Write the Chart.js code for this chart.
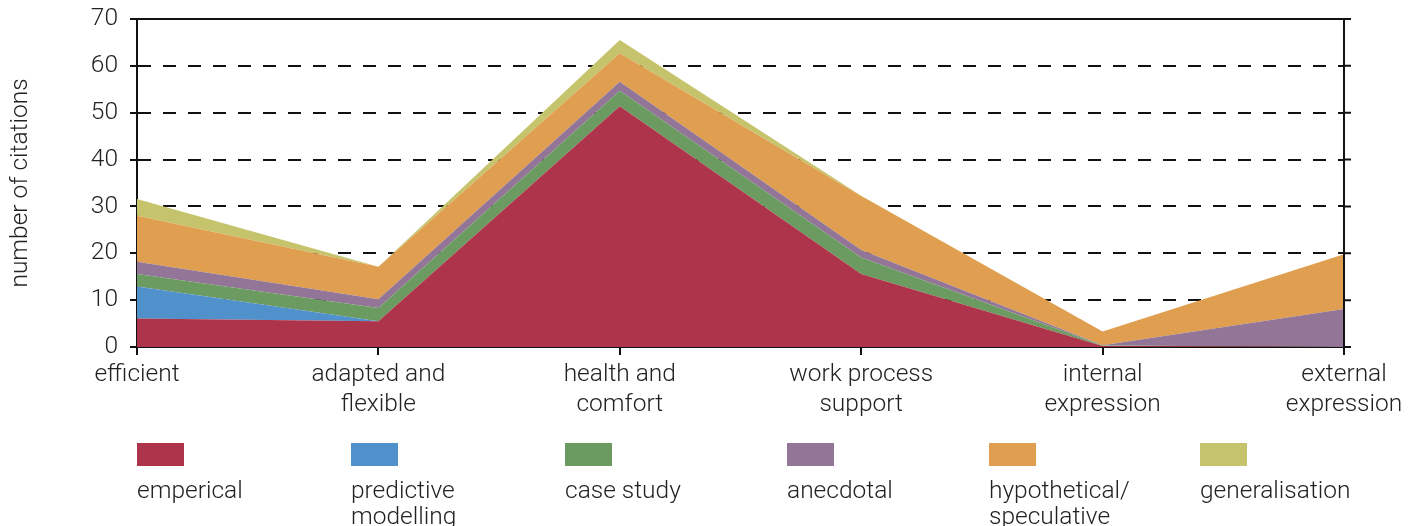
<!DOCTYPE html>
<html>
<head>
<meta charset="utf-8">
<script src="https://cdn.jsdelivr.net/npm/chart.js@4/dist/chart.umd.min.js"></script>
<style>
  html, body { margin: 0; padding: 0; background: #fff; }
  #wrap { position: relative; width: 1418px; height: 526px; overflow: hidden; }
  #legend .item { position: absolute; top: 443px; font: 300 24.5px Roboto, "Liberation Sans", sans-serif; color: #222; line-height: 26px; }
  #legend .swatch { width: 47px; height: 23px; }
  #legend .label { margin-top: 11px; }
</style>
</head>
<body>
<div id="wrap">
  <canvas id="chart" width="1418" height="526"></canvas>
  <div id="legend"></div>
</div>
<script>
// categories on the x axis (multi-line labels)
const categories = [
  ['efficient'],
  ['adapted and', 'flexible'],
  ['health and', 'comfort'],
  ['work process', 'support'],
  ['internal', 'expression'],
  ['external', 'expression'],
];

// citation counts per research type
const emperical      = [6.1, 5.5, 51.4, 15.6, 0.2, 0];
const predictive     = [6.8, 0,   0,    0,    0,   0];
const caseStudy      = [2.7, 2.8, 3.3,  3.5,  0.1, 0];
const anecdotal      = [2.6, 1.9, 1.9,  1.6,  0.1, 8.1];
const hypothetical   = [9.8, 6.9, 6.1,  11.5, 2.9, 11.7];
const generalisation = [3.6, 0,   2.8,  0.1,  0,   0];

const seriesNames  = ['emperical', 'predictive\nmodelling', 'case study', 'anecdotal', 'hypothetical/\nspeculative', 'generalisation'];
const seriesColors = ['#AE344B', '#5090CB', '#6C9B62', '#937597', '#E09F50', '#C5C46C'];
const seriesData   = [emperical, predictive, caseStudy, anecdotal, hypothetical, generalisation];

const yTicks = [0, 10, 20, 30, 40, 50, 60, 70];

const FONT = { family: 'Roboto, "Liberation Sans", sans-serif', size: 24.5, weight: '300' };

// legend columns (x in px)
const legendX = [137, 351, 565, 787, 989, 1200];

// solid frame: top line, right line and right-hand tick marks
const framePlugin = {
  id: 'frame',
  afterDatasetsDraw(chart) {
    const { ctx, chartArea: a, scales: { y } } = chart;
    ctx.save();
    ctx.strokeStyle = '#111';
    ctx.lineWidth = 2;
    ctx.beginPath();
    ctx.moveTo(a.left, a.top);
    ctx.lineTo(a.right, a.top);
    ctx.moveTo(a.right, a.top);
    ctx.lineTo(a.right, a.bottom);
    yTicks.forEach(v => {
      const py = y.getPixelForValue(v);
      ctx.moveTo(a.right, py);
      ctx.lineTo(a.right + 7, py);
    });
    ctx.stroke();
    ctx.restore();
  }
};

new Chart(document.getElementById('chart').getContext('2d'), {
  type: 'line',
  data: {
    labels: categories,
    datasets: seriesData.map((d, i) => ({
      label: seriesNames[i],
      data: d,
      backgroundColor: seriesColors[i],
      borderColor: seriesColors[i],
      borderWidth: 0,
      pointRadius: 0,
      tension: 0,
      fill: i === 0 ? 'origin' : '-1',
    })),
  },
  options: {
    responsive: false,
    animation: false,
    devicePixelRatio: 1,
    layout: { padding: { top: 19, right: 74, bottom: 0, left: 0 } },
    plugins: {
      legend: { display: false },
      tooltip: { enabled: false },
    },
    scales: {
      x: {
        offset: false,
        afterFit: s => { s.height = 179; s.paddingLeft = 0; s.paddingRight = 0; },
        grid: { drawOnChartArea: false, color: '#111', tickLength: 8, lineWidth: 2 },
        border: { color: '#111', width: 2 },
        ticks: { color: '#222', font: { ...FONT, lineHeight: 1.22 }, padding: 5, maxRotation: 0, autoSkip: false },
      },
      y: {
        stacked: true,
        min: 0,
        max: 70,
        afterFit: s => { s.width = 137; s.paddingTop = 0; s.paddingBottom = 0; },
        grid: { color: '#111', lineWidth: 2, tickLength: 7 },
        border: { color: '#111', width: 2, dash: [13, 12] },
        ticks: { stepSize: 10, color: '#222', font: FONT, padding: 12 },
        title: { display: true, text: 'number of citations', color: '#222', font: FONT, padding: { top: 6, bottom: 0 } },
      },
    },
  },
  plugins: [framePlugin],
});

// html legend: swatch above label
const legend = document.getElementById('legend');
seriesNames.forEach((name, i) => {
  const item = document.createElement('div');
  item.className = 'item';
  item.style.left = legendX[i] + 'px';
  const sw = document.createElement('div');
  sw.className = 'swatch';
  sw.style.background = seriesColors[i];
  const lb = document.createElement('div');
  lb.className = 'label';
  lb.innerHTML = name.split('\n').join('<br>');
  item.appendChild(sw);
  item.appendChild(lb);
  legend.appendChild(item);
});
</script>
</body>
</html>
